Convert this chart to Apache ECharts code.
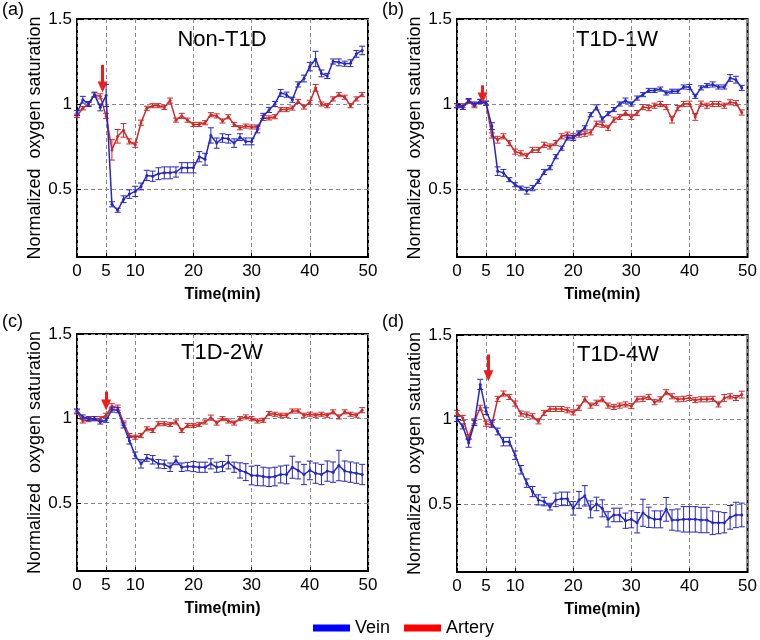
<!DOCTYPE html>
<html><head><meta charset="utf-8">
<script src="https://cdn.jsdelivr.net/npm/echarts@6/dist/echarts.min.js"></script>
<style>html,body{margin:0;padding:0;background:#fff}#c{width:760px;height:640px}</style>
</head><body><div id="c"></div>
<script>
const times = Array.from({length:50},(_,i)=>i);
const xTicks = [0,5,10,20,30,40,50];
const yTicks = [0.5,1,1.5];
const panelTitles = ['Non-T1D','T1D-1W','T1D-2W','T1D-4W'];
const panelLetters = ['(a)','(b)','(c)','(d)'];

const aVein = [0.947,1.025,1.0,1.055,0.98,1.05,0.41,0.375,0.44,0.47,0.486,0.515,0.58,0.575,0.59,0.595,0.595,0.6,0.625,0.625,0.625,0.69,0.675,0.815,0.77,0.8,0.795,0.77,0.805,0.78,0.78,0.85,0.93,0.965,1.0,1.065,1.055,1.025,1.115,1.15,1.22,1.265,1.18,1.165,1.25,1.245,1.237,1.24,1.295,1.315];
const aVeinErr = [0.015,0.02,0.015,0.015,0.02,0.065,0.015,0.012,0.02,0.025,0.03,0.02,0.03,0.03,0.035,0.035,0.035,0.03,0.03,0.03,0.03,0.03,0.035,0.045,0.03,0.025,0.025,0.025,0.02,0.02,0.02,0.02,0.015,0.015,0.015,0.02,0.015,0.015,0.015,0.02,0.025,0.045,0.02,0.015,0.015,0.02,0.015,0.02,0.02,0.025];
const aArtery = [0.93,0.975,1.0,1.055,1.045,0.93,0.73,0.81,0.845,0.78,0.76,0.89,0.975,0.99,0.99,0.98,1.02,0.905,0.93,0.905,0.88,0.88,0.89,0.937,0.93,0.9,0.925,0.88,0.86,0.87,0.865,0.865,0.918,0.918,0.925,0.967,0.967,0.976,1.015,0.982,1.01,1.095,1.0,0.99,1.03,1.055,1.04,0.99,1.03,1.055];
const aArteryErr = [0.01,0.01,0.01,0.01,0.015,0.015,0.06,0.04,0.04,0.015,0.015,0.015,0.012,0.012,0.012,0.012,0.015,0.012,0.015,0.012,0.012,0.012,0.012,0.012,0.012,0.012,0.012,0.012,0.012,0.012,0.012,0.012,0.015,0.012,0.012,0.012,0.012,0.012,0.012,0.012,0.012,0.02,0.012,0.012,0.012,0.012,0.012,0.012,0.012,0.012];

const bVein = [0.99,0.98,1.02,1.0,1.015,1.005,0.87,0.605,0.595,0.555,0.525,0.505,0.49,0.505,0.545,0.6,0.625,0.69,0.74,0.8,0.8,0.83,0.86,0.937,0.98,0.912,0.943,0.967,1.0,1.02,1.0,1.035,1.055,1.08,1.08,1.088,1.065,1.075,1.075,1.1,1.1,1.045,1.095,1.108,1.115,1.1,1.1,1.153,1.143,1.095];
const bVeinErr = [0.012,0.012,0.012,0.012,0.012,0.012,0.02,0.025,0.02,0.012,0.012,0.012,0.02,0.015,0.012,0.015,0.012,0.012,0.012,0.012,0.015,0.012,0.012,0.012,0.015,0.012,0.012,0.012,0.012,0.015,0.012,0.012,0.012,0.012,0.012,0.012,0.012,0.012,0.012,0.012,0.015,0.012,0.012,0.012,0.015,0.012,0.012,0.02,0.02,0.015];
const bArtery = [0.99,0.99,1.015,0.99,1.015,1.005,0.815,0.79,0.81,0.77,0.72,0.71,0.695,0.73,0.73,0.76,0.75,0.77,0.81,0.82,0.81,0.82,0.825,0.833,0.884,0.878,0.86,0.908,0.924,0.947,0.924,0.947,0.982,0.976,0.99,1.0,0.982,0.908,0.976,1.0,1.002,0.924,1.002,0.99,1.0,1.0,0.99,1.01,1.005,0.95];
const bArteryErr = [0.012,0.012,0.012,0.012,0.012,0.012,0.015,0.02,0.015,0.015,0.015,0.015,0.015,0.015,0.015,0.015,0.015,0.015,0.015,0.015,0.015,0.015,0.015,0.015,0.015,0.015,0.015,0.015,0.015,0.015,0.015,0.015,0.015,0.015,0.015,0.015,0.015,0.02,0.015,0.015,0.015,0.02,0.015,0.015,0.015,0.015,0.015,0.015,0.015,0.015];

const cVein = [1.045,1.01,1.0,1.0,0.98,0.99,1.053,1.05,0.96,0.87,0.783,0.733,0.768,0.757,0.733,0.73,0.713,0.753,0.713,0.717,0.717,0.713,0.713,0.733,0.713,0.717,0.743,0.713,0.694,0.684,0.664,0.664,0.658,0.654,0.658,0.67,0.67,0.713,0.694,0.67,0.694,0.678,0.67,0.69,0.684,0.723,0.69,0.684,0.678,0.67];
const cVeinErr = [0.012,0.012,0.012,0.012,0.012,0.012,0.015,0.015,0.015,0.02,0.02,0.025,0.02,0.025,0.025,0.025,0.025,0.025,0.025,0.025,0.03,0.03,0.03,0.03,0.03,0.03,0.04,0.03,0.045,0.05,0.055,0.06,0.055,0.055,0.055,0.05,0.055,0.065,0.05,0.06,0.055,0.06,0.06,0.06,0.06,0.09,0.06,0.06,0.06,0.06];
const cArtery = [1.04,0.986,0.994,1.0,1.0,1.02,1.073,1.065,0.974,0.9,0.89,0.9,0.94,0.93,0.97,0.97,0.966,0.98,0.93,0.96,0.96,0.966,0.98,1.006,0.974,1.0,0.986,0.974,1.0,1.01,1.0,0.986,0.99,1.03,1.026,1.02,1.02,1.045,1.045,1.02,1.026,1.02,1.026,1.02,1.04,1.01,1.04,1.026,1.02,1.05];
const cArteryErr = [0.012,0.012,0.012,0.012,0.012,0.012,0.015,0.015,0.012,0.012,0.012,0.012,0.012,0.012,0.012,0.012,0.012,0.012,0.012,0.012,0.012,0.012,0.012,0.015,0.012,0.012,0.012,0.012,0.012,0.012,0.012,0.012,0.012,0.012,0.012,0.012,0.012,0.012,0.012,0.012,0.012,0.012,0.012,0.012,0.012,0.012,0.012,0.012,0.012,0.015];

const dVein = [1.004,0.96,0.862,0.98,1.208,1.05,0.976,0.93,0.87,0.87,0.79,0.704,0.625,0.575,0.526,0.516,0.486,0.526,0.532,0.532,0.476,0.526,0.55,0.47,0.502,0.476,0.411,0.437,0.437,0.403,0.411,0.391,0.45,0.423,0.411,0.411,0.47,0.407,0.407,0.411,0.411,0.411,0.407,0.407,0.391,0.391,0.391,0.423,0.437,0.437];
const dVeinErr = [0.015,0.015,0.025,0.015,0.03,0.02,0.02,0.02,0.025,0.025,0.025,0.025,0.025,0.03,0.03,0.025,0.02,0.04,0.04,0.04,0.04,0.05,0.06,0.05,0.04,0.05,0.045,0.04,0.04,0.045,0.05,0.06,0.08,0.06,0.05,0.05,0.07,0.06,0.065,0.075,0.075,0.075,0.075,0.075,0.07,0.065,0.06,0.07,0.075,0.07];
const dArtery = [1.04,1.01,0.897,0.99,1.07,0.976,0.97,1.123,1.154,1.134,1.095,1.036,1.03,1.02,0.99,1.04,1.063,1.063,1.063,1.055,1.043,1.07,1.12,1.083,1.1,1.12,1.083,1.075,1.083,1.09,1.08,1.12,1.123,1.134,1.103,1.12,1.162,1.138,1.12,1.123,1.128,1.115,1.12,1.12,1.123,1.09,1.128,1.138,1.128,1.148];
const dArteryErr = [0.015,0.015,0.015,0.015,0.015,0.015,0.015,0.015,0.015,0.015,0.015,0.015,0.015,0.015,0.015,0.015,0.015,0.015,0.015,0.015,0.015,0.015,0.015,0.015,0.015,0.015,0.015,0.015,0.015,0.015,0.015,0.015,0.015,0.015,0.015,0.015,0.015,0.015,0.015,0.015,0.015,0.015,0.015,0.015,0.015,0.015,0.02,0.015,0.015,0.02];

// arrow annotation [x, yTop, yBottom] per panel
const arrows = [[4.4,1.23,1.10],[4.4,1.11,1.035],[5.0,1.16,1.08],[5.4,1.385,1.26]];

const veins = [aVein,bVein,cVein,dVein];
const veinErrs = [aVeinErr,bVeinErr,cVeinErr,dVeinErr];
const arts = [aArtery,bArtery,cArtery,dArtery];
const artErrs = [aArteryErr,bArteryErr,cArteryErr,dArteryErr];

const VEIN_C = '#2626c4';
const ART_C = '#cc2a2a';
const FONT = 'Liberation Sans, Arial, sans-serif';

const grids = [
  {left:77, top:19, width:291, height:238},
  {left:457, top:19, width:291, height:238},
  {left:77, top:334, width:291, height:237},
  {left:457, top:335, width:291, height:237}
];

function errRender(color){
  return function(params, api){
    const x = api.value(0), lo = api.value(1), hi = api.value(2);
    const p1 = api.coord([x, lo]), p2 = api.coord([x, hi]);
    const w = 3;
    const st = {stroke: color, lineWidth: 1};
    return {type:'group', children:[
      {type:'line', shape:{x1:p1[0],y1:p1[1],x2:p2[0],y2:p2[1]}, style:st},
      {type:'line', shape:{x1:p1[0]-w,y1:p1[1],x2:p1[0]+w,y2:p1[1]}, style:st},
      {type:'line', shape:{x1:p2[0]-w,y1:p2[1],x2:p2[0]+w,y2:p2[1]}, style:st}
    ]};
  };
}

const xAxes = [], yAxes = [], series = [], graphics = [];
grids.forEach((g,i)=>{
  xAxes.push({
    type:'value', gridIndex:i, min:0, max:50,
    name:'Time(min)', nameLocation:'middle', nameGap:30,
    nameTextStyle:{fontSize:16, fontWeight:'bold', color:'#000', fontFamily:FONT},
    axisLine:{show:false},
    axisTick:{show:true, inside:true, length:4, customValues:xTicks, lineStyle:{color:'#000'}},
    axisLabel:{customValues:xTicks, fontSize:17, color:'#000', margin:6, fontFamily:FONT},
    splitLine:{show:true, lineStyle:{color:'#888', type:[4,3], width:1}}
  });
  yAxes.push({
    type:'value', gridIndex:i, min:0.1, max:1.5,
    name:'Normalized  oxygen saturation', nameLocation:'middle', nameGap:30,
    nameTextStyle:{fontSize:18, color:'#000', fontFamily:FONT},
    axisLine:{show:false},
    axisTick:{show:true, inside:true, length:4, customValues:yTicks, lineStyle:{color:'#000'}},
    axisLabel:{customValues:yTicks, fontSize:17, color:'#000', margin:5, fontFamily:FONT,
      formatter:v=> (Math.abs(v-1)<1e-9 ? '1' : String(v))},
    splitLine:{show:true, lineStyle:{color:'#888', type:[4,3], width:1}}
  });
  const vData = times.map((t,k)=>[t, veins[i][k]]);
  const aData = times.map((t,k)=>[t, arts[i][k]]);
  const ar = arrows[i];
  series.push({
    type:'custom', xAxisIndex:i, yAxisIndex:i, renderItem:errRender(ART_C),
    data: times.map((t,k)=>[t, arts[i][k]-artErrs[i][k], arts[i][k]+artErrs[i][k]]),
    silent:true, z:2
  });
  series.push({
    type:'line', name:'Artery', xAxisIndex:i, yAxisIndex:i, data:aData,
    symbol:'circle', symbolSize:3, showSymbol:true, color:ART_C,
    lineStyle:{color:ART_C, width:1.5}, itemStyle:{color:ART_C}, z:3, animation:false,
    markLine:{silent:true, symbol:['none','triangle'], symbolSize:[10,11], label:{show:false},
      lineStyle:{color:'#ee1c1c', width:3, type:'solid'},
      data:[[{coord:[ar[0],ar[1]]},{coord:[ar[0],ar[2]]}]]}
  });
  series.push({
    type:'custom', xAxisIndex:i, yAxisIndex:i, renderItem:errRender(VEIN_C),
    data: times.map((t,k)=>[t, veins[i][k]-veinErrs[i][k], veins[i][k]+veinErrs[i][k]]),
    silent:true, z:4
  });
  series.push({
    type:'line', name:'Vein', xAxisIndex:i, yAxisIndex:i, data:vData,
    symbol:'circle', symbolSize:3, showSymbol:true, color:VEIN_C,
    lineStyle:{color:VEIN_C, width:1.5}, itemStyle:{color:VEIN_C}, z:5, animation:false
  });
});

const titlePos = [[222,40],[617,40],[222,353],[618,355]];
const letterPos = [[2,1],[382,1],[2,313],[382,313]];
titlePos.forEach((p,i)=>{
  graphics.push({type:'text', x:p[0], y:p[1], style:{text:panelTitles[i], fontSize:22, fill:'#000', fontFamily:FONT, textAlign:'center', textVerticalAlign:'middle'}});
  graphics.push({type:'text', x:letterPos[i][0], y:letterPos[i][1], style:{text:panelLetters[i], fontSize:18, fill:'#000', fontFamily:FONT}});
});

const chart = echarts.init(document.getElementById('c'));
chart.setOption({
  animation:false,
  backgroundColor:'#fff',
  grid: grids.map(g=>Object.assign({show:true, borderColor:'#000', borderWidth:2, backgroundColor:'transparent'}, g)),
  xAxis:xAxes, yAxis:yAxes, series:series, graphic:graphics,
  legend:{
    left:308, top:614, itemWidth:37, itemHeight:7, itemGap:14, icon:'rect',
    textStyle:{fontSize:18, color:'#000', fontFamily:FONT},
    data:[{name:'Vein', itemStyle:{color:'#0000ff'}}, {name:'Artery', itemStyle:{color:'#ff0000'}}]
  }
});
</script></body></html>
